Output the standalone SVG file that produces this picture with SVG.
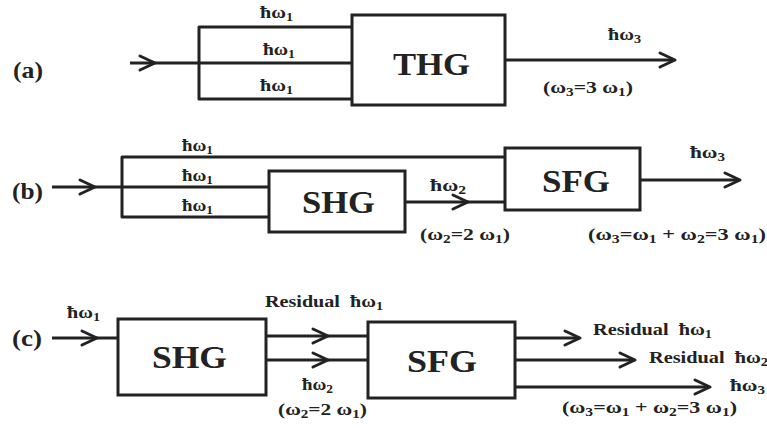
<svg xmlns="http://www.w3.org/2000/svg" xmlns:xlink="http://www.w3.org/1999/xlink" width="767" height="428" viewBox="0 0 767 428">
<style>
.ln{fill:none;stroke:#222;stroke-width:3;stroke-linejoin:round;stroke-linecap:butt}
.box{fill:#fff;stroke:#222;stroke-width:3}
.big{font-family:"Liberation Serif","Times New Roman",serif;font-weight:bold;font-size:31px;fill:#222}
.lbl{font-family:"Liberation Serif","Times New Roman",serif;font-weight:bold;font-size:17px;fill:#222;white-space:pre}
.tag{font-family:"Liberation Serif","Times New Roman",serif;font-weight:bold;font-size:24px;fill:#222}
.sub{font-size:12px}
</style>
<defs>
<path id="chev" d="M-15,-7 L0,0 L-15,7" fill="none" stroke="#222" stroke-width="3" stroke-linecap="round" stroke-linejoin="round"/>
</defs>
<rect width="767" height="428" fill="#fff"/>
<g id="connectors">
<path class="ln" d="M130,63 H199"/>
<path class="ln" d="M352,27 H199 V99 H352 M199,63 H352"/>
<path class="ln" d="M505,60 H674"/>
<path class="ln" d="M52,187 H122"/>
<path class="ln" d="M505,157 H122 V217 H269 M122,187 H269"/>
<path class="ln" d="M405,202 H505"/>
<path class="ln" d="M640,180 H739"/>
<path class="ln" d="M52,338 H118"/>
<path class="ln" d="M266,336 H368 M266,360 H368"/>
<path class="ln" d="M515,338 H579 M515,360 H634 M515,387 H709"/>
<use xlink:href="#chev" x="155" y="63"/>
<use xlink:href="#chev" x="675" y="60"/>
<use xlink:href="#chev" x="95" y="187"/>
<use xlink:href="#chev" x="468" y="202"/>
<use xlink:href="#chev" x="740" y="180"/>
<use xlink:href="#chev" x="97" y="338"/>
<use xlink:href="#chev" x="328" y="336"/>
<use xlink:href="#chev" x="328" y="360"/>
<use xlink:href="#chev" x="580" y="338"/>
<use xlink:href="#chev" x="635" y="360"/>
<use xlink:href="#chev" x="710" y="387"/>
</g>
<g id="thg-a">
<rect class="box" x="352" y="15" width="153" height="90"/>
<text class="big" x="393" y="75" font-size="35" textLength="77" lengthAdjust="spacingAndGlyphs">THG</text>
</g>
<g id="shg-b">
<rect class="box" x="269" y="171" width="136" height="61"/>
<text class="big" x="302" y="213" textLength="73" lengthAdjust="spacingAndGlyphs">SHG</text>
</g>
<g id="sfg-b">
<rect class="box" x="505" y="148" width="135" height="62"/>
<text class="big" x="542" y="192" textLength="68" lengthAdjust="spacingAndGlyphs">SFG</text>
</g>
<g id="shg-c">
<rect class="box" x="118" y="319" width="148" height="76"/>
<text class="big" x="152" y="368" textLength="75" lengthAdjust="spacingAndGlyphs">SHG</text>
</g>
<g id="sfg-c">
<rect class="box" x="368" y="322" width="147" height="76"/>
<text class="big" x="407" y="372" textLength="70" lengthAdjust="spacingAndGlyphs">SFG</text>
</g>
<g id="labels">
<text class="tag" x="13" y="78" textLength="30" lengthAdjust="spacingAndGlyphs">(a)</text>
<text class="tag" x="12" y="199" textLength="31" lengthAdjust="spacingAndGlyphs">(b)</text>
<text class="tag" x="12" y="346" textLength="30" lengthAdjust="spacingAndGlyphs">(c)</text>

<text class="lbl" x="260" y="18" textLength="33" lengthAdjust="spacingAndGlyphs">ħω<tspan class="sub" dy="3">1</tspan></text>
<text class="lbl" x="263" y="55" textLength="32" lengthAdjust="spacingAndGlyphs">ħω<tspan class="sub" dy="3">1</tspan></text>
<text class="lbl" x="260" y="91" textLength="33" lengthAdjust="spacingAndGlyphs">ħω<tspan class="sub" dy="3">1</tspan></text>
<text class="lbl" x="608" y="40" textLength="33" lengthAdjust="spacingAndGlyphs">ħω<tspan class="sub" dy="3">3</tspan></text>
<text class="lbl" x="543" y="93" textLength="90" lengthAdjust="spacingAndGlyphs">(ω<tspan class="sub" dy="3">3</tspan><tspan dy="-3">=3 ω</tspan><tspan class="sub" dy="3">1</tspan><tspan dy="-3">)</tspan></text>

<text class="lbl" x="182" y="151" textLength="31" lengthAdjust="spacingAndGlyphs">ħω<tspan class="sub" dy="3">1</tspan></text>
<text class="lbl" x="182" y="181" textLength="31" lengthAdjust="spacingAndGlyphs">ħω<tspan class="sub" dy="3">1</tspan></text>
<text class="lbl" x="182" y="211" textLength="31" lengthAdjust="spacingAndGlyphs">ħω<tspan class="sub" dy="3">1</tspan></text>
<text class="lbl" x="430" y="191" textLength="36" lengthAdjust="spacingAndGlyphs">ħω<tspan class="sub" dy="3">2</tspan></text>
<text class="lbl" x="420" y="240" textLength="90" lengthAdjust="spacingAndGlyphs">(ω<tspan class="sub" dy="3">2</tspan><tspan dy="-3">=2 ω</tspan><tspan class="sub" dy="3">1</tspan><tspan dy="-3">)</tspan></text>
<text class="lbl" x="690" y="158" textLength="35" lengthAdjust="spacingAndGlyphs">ħω<tspan class="sub" dy="3">3</tspan></text>
<text class="lbl" x="588" y="240" textLength="178" lengthAdjust="spacingAndGlyphs">(ω<tspan class="sub" dy="3">3</tspan><tspan dy="-3">=ω</tspan><tspan class="sub" dy="3">1</tspan><tspan dy="-3"> + ω</tspan><tspan class="sub" dy="3">2</tspan><tspan dy="-3">=3 ω</tspan><tspan class="sub" dy="3">1</tspan><tspan dy="-3">)</tspan></text>

<text class="lbl" x="67" y="318" textLength="33" lengthAdjust="spacingAndGlyphs">ħω<tspan class="sub" dy="3">1</tspan></text>
<text class="lbl" x="265" y="307" textLength="118" lengthAdjust="spacingAndGlyphs">Residual  ħω<tspan class="sub" dy="3">1</tspan></text>
<text class="lbl" x="302" y="390" textLength="31" lengthAdjust="spacingAndGlyphs">ħω<tspan class="sub" dy="3">2</tspan></text>
<text class="lbl" x="278" y="415" textLength="89" lengthAdjust="spacingAndGlyphs">(ω<tspan class="sub" dy="3">2</tspan><tspan dy="-3">=2 ω</tspan><tspan class="sub" dy="3">1</tspan><tspan dy="-3">)</tspan></text>
<text class="lbl" x="593" y="335" textLength="119" lengthAdjust="spacingAndGlyphs">Residual  ħω<tspan class="sub" dy="3">1</tspan></text>
<text class="lbl" x="649" y="363" textLength="119" lengthAdjust="spacingAndGlyphs">Residual  ħω<tspan class="sub" dy="3">2</tspan></text>
<text class="lbl" x="730" y="391" textLength="35" lengthAdjust="spacingAndGlyphs">ħω<tspan class="sub" dy="3">3</tspan></text>
<text class="lbl" x="562" y="413" textLength="175" lengthAdjust="spacingAndGlyphs">(ω<tspan class="sub" dy="3">3</tspan><tspan dy="-3">=ω</tspan><tspan class="sub" dy="3">1</tspan><tspan dy="-3"> + ω</tspan><tspan class="sub" dy="3">2</tspan><tspan dy="-3">=3 ω</tspan><tspan class="sub" dy="3">1</tspan><tspan dy="-3">)</tspan></text>
</g>
</svg>
